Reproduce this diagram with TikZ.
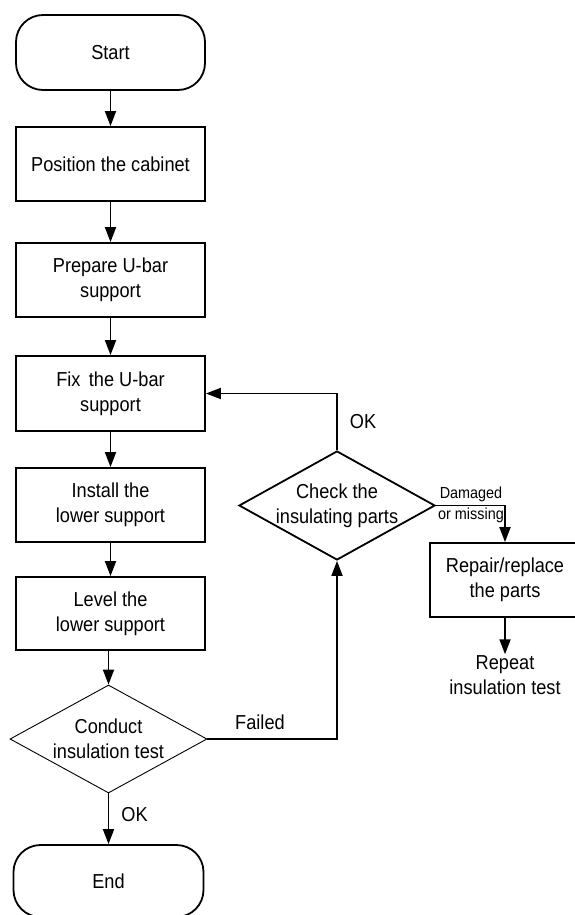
\documentclass[tikz,border=0pt]{standalone}
\usepackage{fontspec}
\setmainfont{Liberation Sans}[FakeStretch=0.9]
\usetikzlibrary{shapes.geometric,arrows.meta}
\begin{document}
\begin{tikzpicture}[x=1pt,y=-1pt,
  base/.style={font=\fontsize{20.2}{25}\selectfont, align=center, inner sep=0pt},
  small/.style={font=\fontsize{16}{21}\selectfont, align=center, inner sep=0pt},
  proc/.style={base, draw, line width=1.8pt, minimum width=189pt, minimum height=74pt},
  term/.style={proc, rounded corners=27pt},
  dec/.style={draw, diamond, inner sep=0pt},
  arr/.style={line width=1.8pt, -{Triangle[length=15pt,width=11pt]}},
  plain/.style={line width=1.8pt}]
\useasboundingbox (0,0) rectangle (574,915);

\node[term, minimum height=75pt] (start) at (110.5,52.5) {Start};
\node[proc] (pos) at (110.5,164) {Position the cabinet};
\node[proc] (prep) at (110.5,280) {Prepare U-bar\\support};
\node[proc, minimum height=75pt] (fix) at (110.5,393.5) {Fix\, the U-bar\\support};
\node[proc] (inst) at (110.5,505) {Install the\\lower support};
\node[proc, minimum height=73pt] (lev) at (110.5,613.5) {Level the\\lower support};
\node[dec, line width=0.9pt, minimum width=197pt, minimum height=108pt] (cond) at (108.5,739) {};
\node[base] (condt) at (cond) {Conduct\\insulation test};
\node[term, minimum width=190pt, minimum height=72pt] (end) at (108.5,881) {End};

\node[dec, line width=1.8pt, minimum width=196pt, minimum height=109pt] (chk) at (337,505.5) {};
\node[base] (chkt) at (chk) {Check the\\insulating parts};
\node[proc, minimum width=150pt] (rep) at (505,580) {Repair/replace\\the parts};
\node[base, inner sep=1pt] (again) at (505,675) {Repeat\\insulation test};

\draw[arr] (start) -- (pos);
\draw[arr] (pos) -- (prep);
\draw[arr] (prep) -- (fix);
\draw[arr] (fix) -- (inst);
\draw[arr] (inst) -- (lev);
\draw[arr] (cond.north |- lev.south) -- (cond.north);
\draw[arr] (cond.south) -- (end.north);
\draw[arr] (cond.east) -| (chk.south);
\draw[arr] (chk.north) |- (fix.east);
\draw[arr] (chk.east) -| (rep.north);
\draw[arr] (rep.south) -- (again.north);

\node[base] (okup) at (363,422) {OK};
\node[base] (failed) at (260,722) {Failed};
\node[base] (okdown) at (134.5,815) {OK};
\node[small] (dmg) at (471,504.5) {Damaged\\or missing};
\end{tikzpicture}
\end{document}
